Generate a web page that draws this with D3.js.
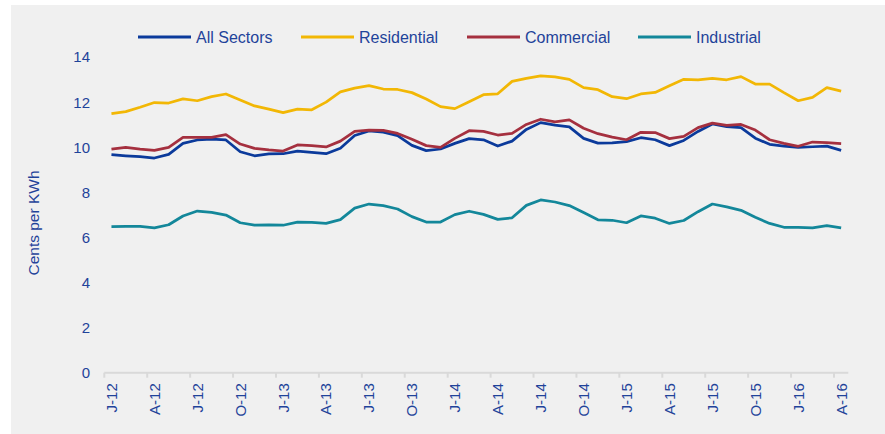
<!DOCTYPE html>
<html>
<head>
<meta charset="utf-8">
<script src="https://cdn.jsdelivr.net/npm/d3@7/dist/d3.min.js"></script>
<style>
  html, body { margin: 0; padding: 0; background: #ffffff; }
  svg { display: block; font-family: "Liberation Sans", Arial, sans-serif; }
</style>
</head>
<body>
<svg id="chart" width="885" height="434"></svg>
<script>
// Monthly average retail electricity price, Jan 2012 – Apr 2016 (cents per kWh)
const months = [
  "2012-01","2012-02","2012-03","2012-04","2012-05","2012-06","2012-07","2012-08","2012-09","2012-10","2012-11","2012-12",
  "2013-01","2013-02","2013-03","2013-04","2013-05","2013-06","2013-07","2013-08","2013-09","2013-10","2013-11","2013-12",
  "2014-01","2014-02","2014-03","2014-04","2014-05","2014-06","2014-07","2014-08","2014-09","2014-10","2014-11","2014-12",
  "2015-01","2015-02","2015-03","2015-04","2015-05","2015-06","2015-07","2015-08","2015-09","2015-10","2015-11","2015-12",
  "2016-01","2016-02","2016-03","2016-04"
];

// Labels shown every third month
const tickLabels = ["J-12","A-12","J-12","O-12","J-13","A-13","J-13","O-13","J-14","A-14","J-14","O-14","J-15","A-15","J-15","O-15","J-16","A-16"];

const allSectors = [
  9.67, 9.62, 9.58, 9.52, 9.68, 10.17, 10.32, 10.36, 10.32, 9.80, 9.62, 9.70,
  9.71, 9.83, 9.77, 9.71, 9.95, 10.52, 10.72, 10.67, 10.51, 10.08, 9.85, 9.92,
  10.17, 10.38, 10.33, 10.05, 10.27, 10.79, 11.09, 10.98, 10.90, 10.39, 10.18, 10.19,
  10.25, 10.42, 10.33, 10.07, 10.30, 10.70, 11.03, 10.91, 10.87, 10.40, 10.13, 10.05,
  9.99, 10.02, 10.05, 9.86
];
const residential = [
  11.49, 11.58, 11.77, 11.98, 11.96, 12.14, 12.06, 12.24, 12.36, 12.09, 11.83, 11.69,
  11.53, 11.69, 11.66, 12.00, 12.45, 12.62, 12.73, 12.58, 12.56, 12.42, 12.14, 11.80,
  11.71, 12.02, 12.33, 12.37, 12.92, 13.05, 13.16, 13.12, 13.01, 12.64, 12.55, 12.24,
  12.15, 12.36, 12.43, 12.73, 13.01, 12.99, 13.05, 12.99, 13.13, 12.80, 12.80, 12.42,
  12.06, 12.21, 12.64, 12.49
];
const commercial = [
  9.91, 9.99, 9.91, 9.86, 9.99, 10.44, 10.44, 10.44, 10.56, 10.14, 9.95, 9.88,
  9.83, 10.10, 10.07, 10.01, 10.27, 10.70, 10.76, 10.75, 10.61, 10.35, 10.07, 9.99,
  10.39, 10.73, 10.70, 10.54, 10.61, 11.01, 11.24, 11.12, 11.21, 10.84, 10.60, 10.45,
  10.33, 10.66, 10.65, 10.38, 10.48, 10.87, 11.07, 10.97, 11.01, 10.76, 10.33, 10.17,
  10.04, 10.23, 10.20, 10.16
];
const industrial = [
  6.48, 6.49, 6.49, 6.42, 6.56, 6.95, 7.17, 7.11, 6.99, 6.65, 6.54, 6.56,
  6.54, 6.68, 6.67, 6.62, 6.79, 7.30, 7.48, 7.41, 7.26, 6.92, 6.68, 6.68,
  7.01, 7.16, 7.02, 6.80, 6.87, 7.42, 7.66, 7.57, 7.41, 7.10, 6.78, 6.76,
  6.65, 6.95, 6.85, 6.62, 6.75, 7.14, 7.48, 7.35, 7.20, 6.89, 6.62, 6.45,
  6.45, 6.42, 6.52, 6.42
];

const seriesNames = ["All Sectors", "Residential", "Commercial", "Industrial"];
const seriesColors = ["#0b3a9b", "#f2b705", "#a5303f", "#13879a"];
const seriesValues = [allSectors, residential, commercial, industrial];

const yTicks = [0, 2, 4, 6, 8, 10, 12, 14];

const textColor = "#1f439a";
const svg = d3.select("#chart");

// Panel background
svg.append("rect")
  .attr("x", 11).attr("y", 5)
  .attr("width", 874).attr("height", 429)
  .attr("fill", "#f0f0f0");

const x = d3.scaleBand().domain(months).range([104.3, 848.3]).paddingInner(0).paddingOuter(0);
const y = d3.scaleLinear().domain([0, 14]).range([372.7, 57]);
const cx = m => x(m) + x.bandwidth() / 2;

// Y tick labels
svg.append("g")
  .selectAll("text")
  .data(yTicks)
  .join("text")
  .attr("x", 90)
  .attr("y", d => y(d))
  .attr("dy", "0.36em")
  .attr("text-anchor", "end")
  .attr("font-size", 15)
  .attr("fill", textColor)
  .text(d => d);

// Y axis title
svg.append("text")
  .attr("transform", "translate(39,223) rotate(-90)")
  .attr("text-anchor", "middle")
  .attr("font-size", 15.5)
  .attr("fill", textColor)
  .text("Cents per KWh");

// X axis baseline and tick marks (on month boundaries every third month)
const tickMonths = months.filter((m, i) => i % 3 === 0);
const axisG = svg.append("g");
axisG.append("line")
  .attr("x1", x.range()[0]).attr("x2", x.range()[1])
  .attr("y1", y(0)).attr("y2", y(0))
  .attr("stroke", "#d9d9d9").attr("stroke-width", 2);
axisG.selectAll("line.tick")
  .data(tickMonths)
  .join("line")
  .attr("class", "tick")
  .attr("x1", d => x(d)).attr("x2", d => x(d))
  .attr("y1", y(0)).attr("y2", y(0) + 5)
  .attr("stroke", "#d9d9d9").attr("stroke-width", 2);

// X tick labels, rotated, centred on their month
axisG.selectAll("text")
  .data(tickMonths)
  .join("text")
  .attr("transform", d => `translate(${cx(d)},${y(0) + 10.5}) rotate(-90)`)
  .attr("dy", "0.36em")
  .attr("text-anchor", "end")
  .attr("font-size", 15)
  .attr("fill", textColor)
  .text((d, i) => tickLabels[i]);

// Series lines
const line = d3.line()
  .x((d, i) => cx(months[i]))
  .y(d => y(d));

svg.append("g")
  .selectAll("path")
  .data(seriesValues)
  .join("path")
  .attr("d", d => line(d))
  .attr("fill", "none")
  .attr("stroke", (d, i) => seriesColors[i])
  .attr("stroke-width", 2.75)
  .attr("stroke-linejoin", "round");

// Legend
const legendX = [138, 301, 467, 638];
const legend = svg.append("g")
  .selectAll("g")
  .data(seriesNames)
  .join("g")
  .attr("transform", (d, i) => `translate(${legendX[i]},37)`);
legend.append("line")
  .attr("x1", 0).attr("x2", 53)
  .attr("y1", 0).attr("y2", 0)
  .attr("stroke", (d, i) => seriesColors[i])
  .attr("stroke-width", 3);
legend.append("text")
  .attr("x", 58)
  .attr("dy", "0.36em")
  .attr("font-size", 16)
  .attr("fill", textColor)
  .text(d => d);
</script>
</body>
</html>
